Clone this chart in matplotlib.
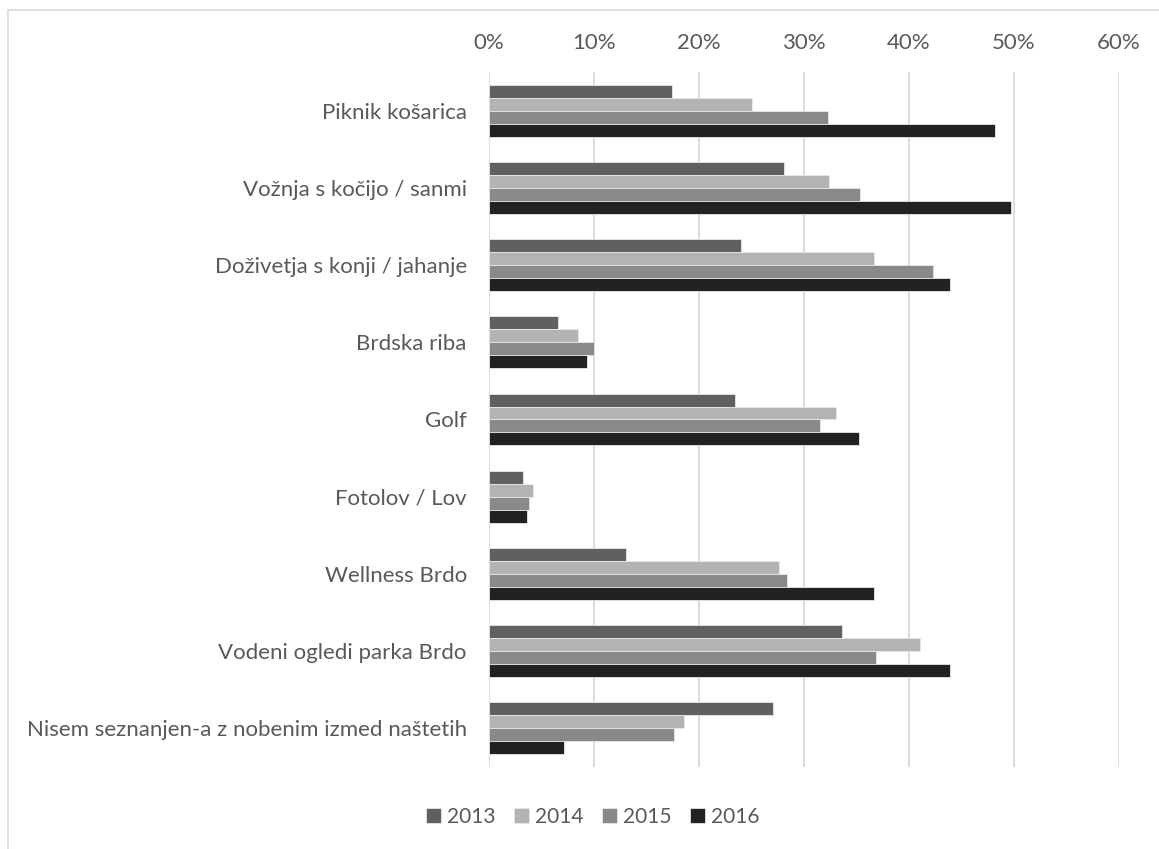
import numpy as np
import matplotlib.pyplot as plt
from matplotlib.patches import Rectangle

plt.rcParams['font.family'] = ['Lato', 'DejaVu Sans']

categories = ['Piknik košarica', 'Vožnja s kočijo / sanmi', 'Doživetja s konji / jahanje',
              'Brdska riba', 'Golf', 'Fotolov / Lov', 'Wellness Brdo',
              'Vodeni ogledi parka Brdo', 'Nisem seznanjen-a z nobenim izmed naštetih']
years = ['2013', '2014', '2015', '2016']
v2013 = [17.4, 28.1, 24.0, 6.6, 23.4, 3.2, 13.0, 33.6, 27.0]
v2014 = [25.0, 32.4, 36.7, 8.5, 33.0, 4.2, 27.6, 41.0, 18.6]
v2015 = [32.3, 35.3, 42.3, 10.0, 31.5, 3.8, 28.4, 36.9, 17.6]
v2016 = [48.2, 49.7, 43.9, 9.3, 35.2, 3.6, 36.7, 43.9, 7.1]
colors = ['#606060', '#b3b3b3', '#898989', '#222222']
text_col = '#595959'
fs = 16

fig = plt.figure(figsize=(11.59, 8.49), dpi=100)
ax = fig.add_axes([489 / 1159, 1 - 767 / 849, (1119 - 489) / 1159, (767 - 72) / 849])

# outer chart border (left and top edges visible)
fig.patches.append(Rectangle((8 / 1159, -0.1), 1.2, 1 - 10 / 849 + 0.1, transform=fig.transFigure,
                             fill=False, edgecolor='#d9d9d9', linewidth=1.2, clip_on=False))

y = np.arange(len(categories))
h = 0.168
for k, (vals, c, lab) in enumerate(zip([v2013, v2014, v2015, v2016], colors, years)):
    ax.barh(y + (k - 1.5) * h, vals, height=h, color=c, label=lab,
            edgecolor='#e8e8e8', linewidth=0.6, zorder=3)

ax.set_ylim(len(categories) - 0.5, -0.5)
ax.set_xlim(0, 60)
ax.set_xticks(range(0, 61, 10))
ax.set_xticklabels([f'{t}%' for t in range(0, 61, 10)])
ax.xaxis.tick_top()
ax.tick_params(axis='x', length=0, pad=14, labelsize=fs, labelcolor=text_col)
ax.set_yticks(y)
ax.set_yticklabels(categories)
ax.tick_params(axis='y', length=0, pad=16, labelsize=fs, labelcolor=text_col)
ax.grid(axis='x', color='#d9d9d9', linewidth=1.3, zorder=0)
for s in ax.spines.values():
    s.set_visible(False)

fig.legend(loc='center', bbox_to_anchor=(593 / 1159, 1 - 817 / 849), ncol=4, frameon=False,
           fontsize=15, labelcolor=text_col, handlelength=0.7, handleheight=0.7,
           handletextpad=0.3, columnspacing=0.9)

plt.savefig('out.png', dpi=100)
